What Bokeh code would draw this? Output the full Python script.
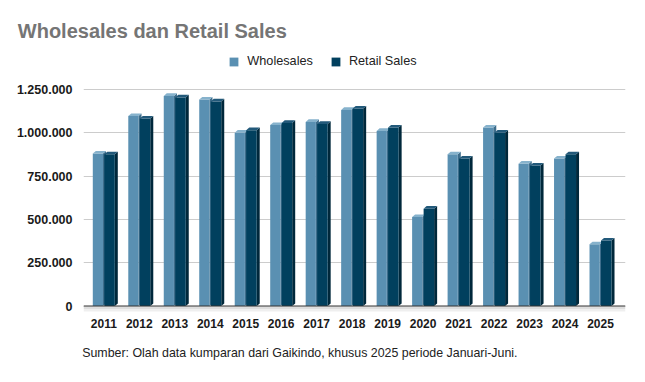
from bokeh.plotting import figure
from bokeh.models import (Range1d, FixedTicker, Legend, LegendItem, Span, Title,
                          CustomJSTickFormatter)
from bokeh.embed import file_html
from bokeh.resources import INLINE

# ---- data ----
years = ["2011", "2012", "2013", "2014", "2015", "2016", "2017", "2018",
         "2019", "2020", "2021", "2022", "2023", "2024", "2025"]
wholesales = [880000, 1097000, 1213000, 1192000, 1001000, 1045000, 1063000, 1132000,
              1011000, 514000, 876000, 1030000, 822000, 851000, 356000]
retail_sales = [876000, 1082000, 1204000, 1181000, 1015000, 1057000, 1051000, 1140000,
                1030000, 562000, 851000, 1001000, 811000, 876000, 378000]
y_ticks = [0, 250000, 500000, 750000, 1000000, 1250000]
series_names = ["Wholesales", "Retail Sales"]
title_text = "Wholesales dan Retail Sales"
note_text = "Sumber: Olah data kumparan dari Gaikindo, khusus 2025 periode Januari-Juni."

# ---- layout (canvas pixels) ----
W, H = 640, 378
FRAME_LEFT, FRAME_RIGHT, FRAME_TOP, FRAME_BOTTOM = 83, 625, 41, 311
ZERO_PX = 305.5          # canvas y of the value 0
TOP_PX = 89.0            # canvas y of the top tick
CAT_PX = 35.48           # pixels per category
CAT0_PX = 103.3          # canvas x of the first category centre

FW = FRAME_RIGHT - FRAME_LEFT
YMAX = y_ticks[-1]
Y_PX = (ZERO_PX - TOP_PX) / YMAX
Y0 = -(FRAME_BOTTOM - ZERO_PX) / Y_PX
Y1 = YMAX + (TOP_PX - FRAME_TOP) / Y_PX
X0 = -(CAT0_PX - FRAME_LEFT) / CAT_PX
X1 = X0 + FW / CAT_PX

p = figure(width=W, height=H, output_backend="svg", toolbar_location=None,
           x_range=Range1d(X0, X1), y_range=Range1d(Y0, Y1),
           min_border_left=FRAME_LEFT, min_border_right=W - FRAME_RIGHT,
           min_border_top=FRAME_TOP, min_border_bottom=H - FRAME_BOTTOM)
p.outline_line_color = None
p.background_fill_color = "white"
p.border_fill_color = "white"
p.xgrid.grid_line_color = None
p.ygrid.ticker = FixedTicker(ticks=y_ticks)
p.ygrid.grid_line_color = "#cccccc"

FONT = "Liberation Sans"
p.yaxis.ticker = FixedTicker(ticks=y_ticks)
p.yaxis.formatter = CustomJSTickFormatter(
    code="return tick.toFixed(0).replace(/\\B(?=(\\d{3})+(?!\\d))/g, '.');")
p.yaxis.axis_line_color = None
p.yaxis.major_tick_line_color = None
p.yaxis.minor_tick_line_color = None
p.yaxis.major_label_standoff = 5
p.yaxis.major_label_text_font = FONT
p.yaxis.major_label_text_font_style = "bold"
p.yaxis.major_label_text_font_size = "12.5px"
p.yaxis.major_label_text_color = "#1a1a1a"

p.xaxis.ticker = FixedTicker(ticks=list(range(len(years))))
p.xaxis.major_label_overrides = {i: y for i, y in enumerate(years)}
p.xaxis.axis_line_color = None
p.xaxis.major_tick_line_color = None
p.xaxis.minor_tick_line_color = None
p.xaxis.major_label_standoff = 1
p.xaxis.major_label_text_font = FONT
p.xaxis.major_label_text_font_style = "bold"
p.xaxis.major_label_text_font_size = "12px"
p.xaxis.major_label_text_color = "#1a1a1a"
# small blank spacer below the year labels, so the footnote sits a little lower
p.xaxis.axis_label = " "
p.xaxis.axis_label_standoff = 0
p.xaxis.axis_label_text_font_size = "4px"

# floor shadow
p.quad(left=[X0], right=[X1], top=[0], bottom=[-3 / Y_PX], fill_color="#dedede", line_color=None)
p.quad(left=[X0], right=[X1], top=[-3 / Y_PX], bottom=[-6 / Y_PX], fill_color="#efefef", line_color=None)

DX = 3 / CAT_PX
DY = 2.6 / Y_PX

styles = [
    dict(vals=wholesales, l=-11.0, r=-0.8, front="#5a90b2", side="#3e6d8b", cap="#86b2cc"),
    dict(vals=retail_sales, l=0.5, r=11.0, front="#01405e", side="#00283b", cap="#22597a"),
]
front_renderers = []
for st in styles:
    idx = list(range(len(years)))
    lefts = [i + st["l"] / CAT_PX for i in idx]
    rights = [i + st["r"] / CAT_PX for i in idx]
    vals = st["vals"]
    side_xs = [[r, r, r + DX, r + DX] for r in rights]
    side_ys = [[0, v, v + DY, DY] for v in vals]
    p.patches(side_xs, side_ys, fill_color=st["side"], line_color=None)
    fr = p.quad(left=lefts, right=rights, top=vals, bottom=[0] * len(vals),
                fill_color=st["front"], line_color=None)
    front_renderers.append(fr)
    cap_xs = [[l, r, r + DX, l + DX] for l, r in zip(lefts, rights)]
    cap_ys = [[v, v, v + DY, v + DY] for v in vals]
    p.patches(cap_xs, cap_ys, fill_color=st["cap"], line_color=None)

p.add_layout(Span(location=0, dimension="width", line_color="#333333", line_width=1))

legend = Legend(items=[LegendItem(label=n, renderers=[r]) for n, r in zip(series_names, front_renderers)],
                orientation="horizontal",
                location=(228.3 - FRAME_LEFT, FRAME_BOTTOM - 68.3),
                glyph_width=11, glyph_height=11, label_height=11, label_width=10,
                label_standoff=8, spacing=17, padding=0, margin=0,
                border_line_color=None, background_fill_alpha=0,
                label_text_font=FONT, label_text_font_size="12.7px", label_text_color="#222222")
p.add_layout(legend)

p.add_layout(Title(text=title_text, align="left", offset=17.3 - FRAME_LEFT, standoff=0,
                   text_font=FONT, text_font_style="bold", text_font_size="20px",
                   text_color="#757575"), "above")

p.add_layout(Title(text=note_text, align="left", offset=81.7 - FRAME_LEFT,
                   text_font=FONT, text_font_style="normal", text_font_size="12.4px",
                   text_color="#222222"), "below")

open("out.html", "w").write(file_html(p, INLINE))
